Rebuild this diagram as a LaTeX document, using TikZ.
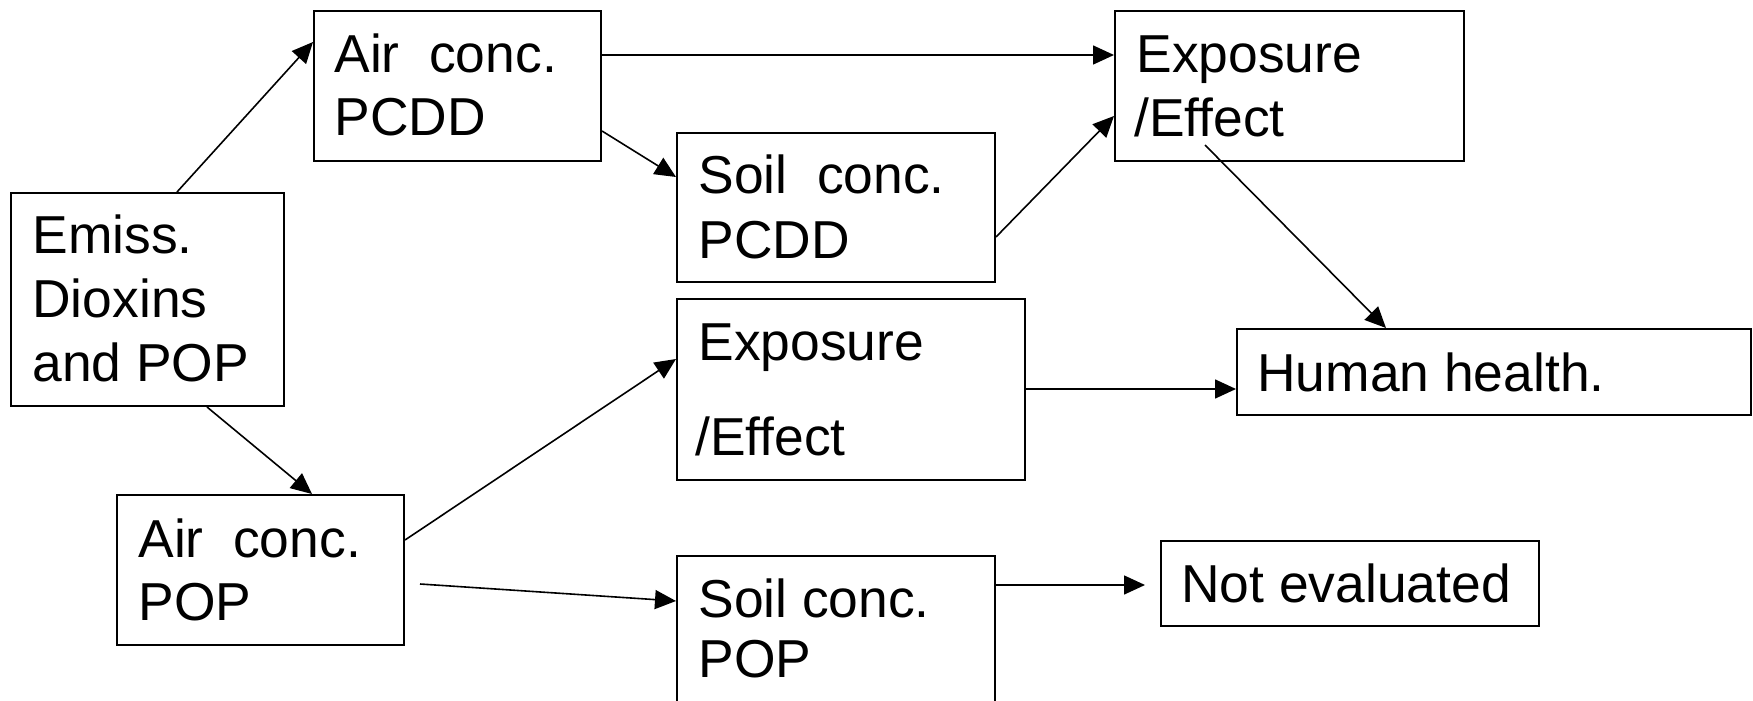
\documentclass[tikz,border=0pt]{standalone}
\usepackage{fontspec}
\setmainfont{Liberation Sans}
\usetikzlibrary{arrows.meta,calc}
\begin{document}
\begin{tikzpicture}[x=0.5pt,y=-0.5pt,
  box/.style={draw=black,line width=1pt,inner sep=0pt,anchor=north west},
  txt/.style={anchor=base west,inner sep=0pt,font=\fontsize{26.7pt}{32pt}\selectfont},
  link/.style={line width=0.8pt,-{Triangle[length=10.5pt,width=9.5pt]}}]
\clip (0,0) rectangle (1753,701);
\fill[white] (0,0) rectangle (1753,701);

% boxes
\node[box,minimum width=136.5pt,minimum height=106.5pt] (emiss) at (10,192) {};
\node[box,minimum width=143.5pt,minimum height=75pt]    (airP)  at (313,10) {};
\node[box,minimum width=159pt,minimum height=74.5pt]    (soilP) at (676,132) {};
\node[box,minimum width=174.5pt,minimum height=75pt]    (expT)  at (1114,10) {};
\node[box,minimum width=174pt,minimum height=90.5pt]    (expM)  at (676,298) {};
\node[box,minimum width=257pt,minimum height=43pt]      (health) at (1236,328) {};
\node[box,minimum width=143.5pt,minimum height=75pt]    (airO)  at (116,494) {};
\node[box,minimum width=159pt,minimum height=90pt]      (soilO) at (676,555) {};
\node[box,minimum width=189pt,minimum height=42.5pt]    (notev) at (1160,540) {};

% labels
\node[txt] (emissA) at (32,254) {Emiss.};
\node[txt] (emissB) at (32,317) {Dioxins};
\node[txt] (emissC) at (32,381) {and POP};
\node[txt] (airPA) at (334,73) {Air\ \ conc.};
\node[txt] (airPB) at (334,136) {PCDD};
\node[txt] (soilPA) at (698,194) {Soil\ \ conc.};
\node[txt] (soilPB) at (698,258) {PCDD};
\node[txt] (expTA) at (1136,73) {Exposure};
\node[txt] (expTB) at (1134,137) {/Effect};
\node[txt] (expMA) at (698,360) {Exposure};
\node[txt] (expMB) at (695,455) {/Effect};
\node[txt] (healthA) at (1257,391) {Human health.};
\node[txt] (airOA) at (138,557) {Air\ \ conc.};
\node[txt] (airOB) at (138,620) {POP};
\node[txt] (soilOA) at (698,617) {Soil conc.};
\node[txt] (soilOB) at (698,677) {POP};
\node[txt] (notevA) at (1181,602) {Not evaluated};

% connectors
\draw[link] ($(emiss.north west)+(167,0)$) -- ($(airP.north west)+(0,32)$);
\draw[link] ($(airP.north east)+(0,45)$) -- ($(expT.north west)+(0,45)$);
\draw[link] ($(airP.north east)+(0,121)$) -- ($(soilP.north west)+(0,45)$);
\draw[link] ($(soilP.north east)+(0,105)$) -- ($(expT.north west)+(0,106)$);
\draw[link] ($(expT.north west)+(91,135)$) -- ($(health.north west)+(150,0)$);
\draw[link] ($(emiss.south west)+(197,0)$) -- ($(airO.north west)+(196,0)$);
\draw[link] ($(airO.north east)+(0,46)$) -- ($(expM.north west)+(0,61)$);
\draw[link] ($(airO.north east)+(15,90)$) -- ($(soilO.north west)+(0,46)$);
\draw[link] ($(expM.north east)+(0,91)$) -- ($(health.north west)+(0,61)$);
\coordinate (soilOend) at (1145,585);
\draw[link] ($(soilO.north east)+(0,30)$) -- (soilOend);
\end{tikzpicture}
\end{document}
